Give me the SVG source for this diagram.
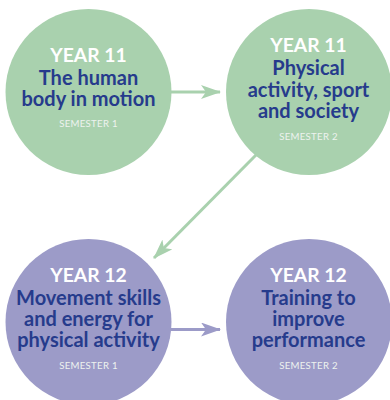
<svg xmlns="http://www.w3.org/2000/svg" width="390" height="400" viewBox="0 0 390 400">
<defs>
<style>
.g{fill:#a9d1ae}
.p{fill:#9c9bc8}
.yr{font-family:Lato,"Open Sans",sans-serif;font-weight:bold;font-size:19.3px;fill:#ffffff;text-anchor:middle}
.t{font-family:Lato,"Open Sans",sans-serif;font-weight:bold;font-size:20px;fill:#263b8c;text-anchor:middle}
.s{font-family:Lato,"Open Sans",sans-serif;font-size:9.6px;fill:#eef3ef;text-anchor:middle;letter-spacing:0.3px}
.cg{stroke:#a9d1ae;stroke-width:3;fill:none}
.cp{stroke:#9c9bc8;stroke-width:3;fill:none}
</style>
<marker id="ag" viewBox="0 0 20 14" refX="19" refY="7" markerWidth="20" markerHeight="14" markerUnits="userSpaceOnUse" orient="auto">
<path d="M0,0 L20,7 L0,14 L5,7 Z" fill="#a9d1ae"/>
</marker>
<marker id="ap" viewBox="0 0 20 14" refX="19" refY="7" markerWidth="20" markerHeight="14" markerUnits="userSpaceOnUse" orient="auto">
<path d="M0,0 L20,7 L0,14 L5,7 Z" fill="#9c9bc8"/>
</marker>
</defs>
<rect width="390" height="400" fill="#ffffff"/>
<g id="connectors">
<line class="cg" x1="171" y1="92" x2="220" y2="92" marker-end="url(#ag)"/>
<line class="cg" x1="256" y1="155" x2="154" y2="258" marker-end="url(#ag)"/>
<line class="cp" x1="171" y1="329.5" x2="220" y2="329.5" marker-end="url(#ap)"/>
</g>
<g id="node1">
<circle class="g" cx="88.5" cy="92" r="83"/>
<text class="yr" x="88.5" y="62">YEAR 11</text>
<text class="t" x="88.5" y="85">The human</text>
<text class="t" x="88.5" y="106">body in motion</text>
<text class="s" x="88.5" y="127">SEMESTER 1</text>
</g>
<g id="node2">
<circle class="g" cx="309" cy="92" r="83"/>
<text class="yr" x="308.5" y="52">YEAR 11</text>
<text class="t" x="308.5" y="75">Physical</text>
<text class="t" x="308.5" y="97">activity, sport</text>
<text class="t" x="308.5" y="118">and society</text>
<text class="s" x="308.5" y="140">SEMESTER 2</text>
</g>
<g id="node3">
<circle class="p" cx="88.5" cy="322" r="83"/>
<text class="yr" x="88.5" y="282">YEAR 12</text>
<text class="t" x="88.5" y="305">Movement skills</text>
<text class="t" x="88.5" y="326">and energy for</text>
<text class="t" x="88.5" y="347">physical activity</text>
<text class="s" x="88.5" y="369">SEMESTER 1</text>
</g>
<g id="node4">
<circle class="p" cx="309" cy="322" r="83"/>
<text class="yr" x="308.5" y="282">YEAR 12</text>
<text class="t" x="308.5" y="305">Training to</text>
<text class="t" x="308.5" y="326">improve</text>
<text class="t" x="308.5" y="347">performance</text>
<text class="s" x="308.5" y="369">SEMESTER 2</text>
</g>
</svg>
